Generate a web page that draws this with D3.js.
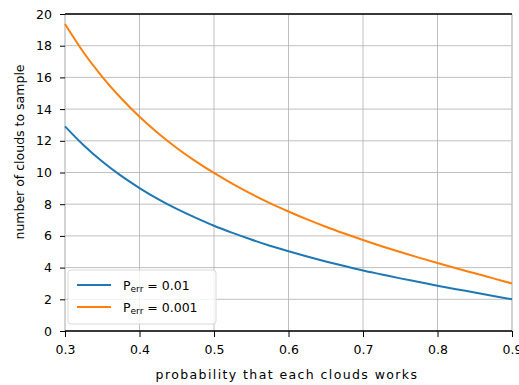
<!DOCTYPE html>
<html><head><meta charset="utf-8">
<script src="https://cdn.jsdelivr.net/npm/d3@7"></script>
<style>body{margin:0;background:#fff}text{font-family:"DejaVu Sans",sans-serif}</style>
</head><body><svg id="c" width="519" height="385"></svg>
<script>
const probs = [0.30,0.325,0.35,0.375,0.40,0.425,0.45,0.475,0.50,0.525,0.55,0.575,0.60,0.625,0.65,0.675,0.70,0.725,0.75,0.775,0.80,0.825,0.85,0.875,0.90];
const nErr01 = [12.91,11.72,10.69,9.80,9.02,8.32,7.70,7.15,6.64,6.19,5.77,5.38,5.03,4.70,4.39,4.10,3.82,3.57,3.32,3.09,2.86,2.64,2.43,2.21,2.00];
const nErr001 = [19.37,17.57,16.04,14.70,13.52,12.48,11.55,10.72,9.97,9.28,8.65,8.07,7.54,7.04,6.58,6.15,5.74,5.35,4.98,4.63,4.29,3.96,3.64,3.32,3.00];
const seriesNames = ["0.01","0.001"];
const xTicks = [0.3,0.4,0.5,0.6,0.7,0.8,0.9];
const yTicks = [0,2,4,6,8,10,12,14,16,18,20];
const colors = ["#1f77b4","#ff7f0e"];

const svg = d3.select("#c");
const L=65,R=512,T=14,B=331;
const x = d3.scaleLinear().domain([0.3,0.9]).range([L,R]);
const y = d3.scaleLinear().domain([0,20]).range([B,T]);

// grid
svg.append("g").selectAll("line").data(xTicks).join("line")
  .attr("x1",d=>x(d)).attr("x2",d=>x(d)).attr("y1",T).attr("y2",B)
  .attr("stroke","#b0b0b0").attr("stroke-width",0.8);
svg.append("g").selectAll("line").data(yTicks).join("line")
  .attr("x1",L).attr("x2",R).attr("y1",d=>y(d)).attr("y2",d=>y(d))
  .attr("stroke","#b0b0b0").attr("stroke-width",0.8);

// left/right spines light
svg.append("line").attr("x1",L).attr("x2",L).attr("y1",T).attr("y2",B).attr("stroke","#c8c8c8").attr("stroke-width",1);
svg.append("line").attr("x1",R).attr("x2",R).attr("y1",T).attr("y2",B).attr("stroke","#c8c8c8").attr("stroke-width",1);

// lines
const line = d3.line().x(d=>x(d[0])).y(d=>y(d[1])).curve(d3.curveMonotoneX);
[nErr01,nErr001].forEach((vals,i)=>{
  svg.append("path").datum(probs.map((p,j)=>[p,vals[j]]))
    .attr("d",line).attr("fill","none").attr("stroke",colors[i]).attr("stroke-width",2);
});

// axes
const xAxis = svg.append("g").attr("transform",`translate(0,${B})`)
  .call(d3.axisBottom(x).tickValues(xTicks).tickFormat(d3.format(".1f")).tickSize(6).tickPadding(8));
const yAxis = svg.append("g").attr("transform",`translate(${L},0)`)
  .call(d3.axisLeft(y).tickValues(yTicks).tickSize(5).tickPadding(8));
[xAxis,yAxis].forEach(g=>{
  g.select(".domain").remove();
  g.selectAll(".tick line").attr("stroke","#000").attr("stroke-width",1);
  g.selectAll("text").attr("font-size",12.5).attr("fill","#000").attr("font-family","DejaVu Sans");
});
// top and bottom spines
svg.append("line").attr("x1",L).attr("x2",R).attr("y1",T).attr("y2",T).attr("stroke","#000").attr("stroke-width",1.6);
svg.append("line").attr("x1",L).attr("x2",R).attr("y1",B).attr("y2",B).attr("stroke","#000").attr("stroke-width",1.6);

// labels
svg.append("text").attr("x",287).attr("y",379).attr("text-anchor","middle").attr("font-size",12.5)
  .attr("letter-spacing",1.4)
  .text("probability that each clouds works");
svg.append("text").attr("transform",`translate(24,152) rotate(-90)`).attr("text-anchor","middle").attr("font-size",12.5)
  .text("number of clouds to sample");

// legend
const lg = svg.append("g");
lg.append("rect").attr("x",68).attr("y",270).attr("width",148).attr("height",54).attr("rx",3)
  .attr("fill","#fff").attr("fill-opacity",0.8).attr("stroke","#d9d9d9").attr("stroke-width",1);
seriesNames.forEach((n,i)=>{
  const yy = 285 + i*22;
  lg.append("line").attr("x1",77).attr("x2",111).attr("y1",yy).attr("y2",yy).attr("stroke",colors[i]).attr("stroke-width",2);
  const t = lg.append("text").attr("x",123).attr("y",yy+4.5).attr("font-size",12.5);
  t.append("tspan").text("P");
  t.append("tspan").attr("font-size",9).attr("dy",2).text("err");
  t.append("tspan").attr("dy",-2).text(" = "+n);
});
</script></body></html>
